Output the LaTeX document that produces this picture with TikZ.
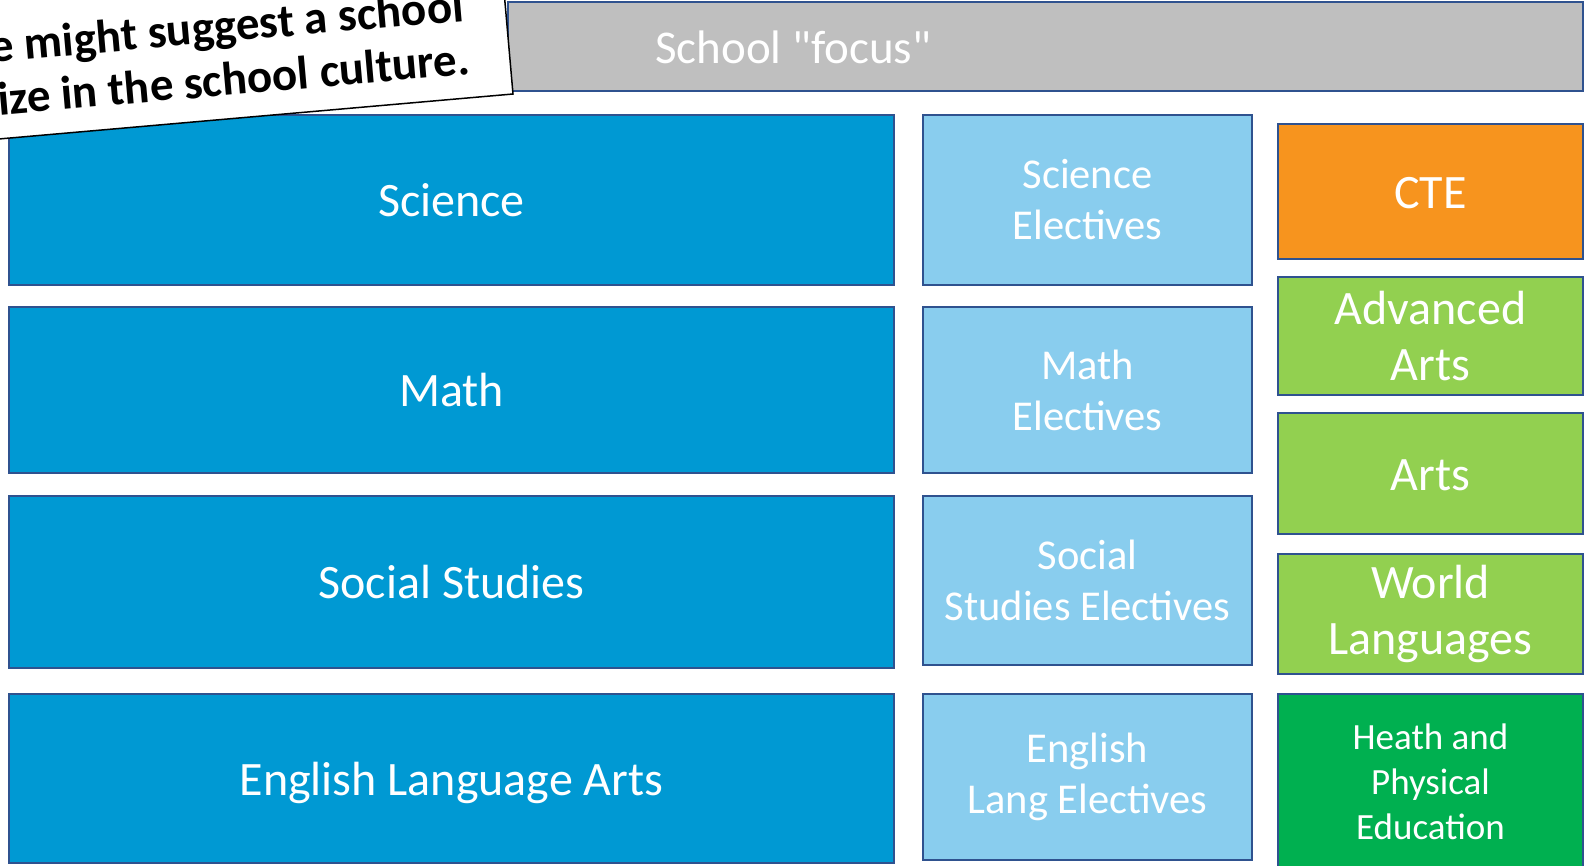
\documentclass[tikz,border=0pt]{standalone}
\usepackage{fontspec}
\setmainfont{Carlito}
\newfontfamily\plaincal{Carlito}
\definecolor{bdr}{RGB}{47,82,143}
\definecolor{core}{RGB}{0,153,211}
\definecolor{elect}{RGB}{137,205,238}
\definecolor{cte}{RGB}{247,148,30}
\definecolor{arts}{RGB}{146,208,80}
\definecolor{hpe}{RGB}{0,176,80}
\definecolor{focusgray}{RGB}{191,191,191}
\tikzset{
  box/.style={draw=bdr, line width=2pt, text=white, align=center, inner sep=0pt},
  coretxt/.style={font=\fontsize{48}{58}\selectfont, text height=33pt, text depth=0pt},
  electtxt/.style={font=\fontsize{42.5}{51}\selectfont},
  righttxt/.style={font=\fontsize{48}{56}\selectfont},
  onelinetxt/.style={text height=34pt, text depth=0pt},
  hpetxt/.style={font=\fontsize{37}{45}\selectfont},
  notetxt/.style={font=\bfseries\fontsize{47}{52}\selectfont, rotate=5, inner sep=0pt}
}
\begin{document}
\begin{tikzpicture}[x=1pt,y=-1pt]
\useasboundingbox (0,0) rectangle (1588,865);
\clip (0,0) rectangle (1588,865);
\fill[white] (0,0) rectangle (1588,865);

% school focus banner
\node[box, fill=focusgray, minimum width=1075pt, minimum height=89pt] (focus) at (1045.5,46.5) {};
\node[text=white, font=\plaincal\fontsize{47}{56}\selectfont, anchor=base west, inner sep=0pt] (focustxt) at (655,63) {School "focus"};

% core subjects
\node[box, coretxt, fill=core, minimum width=885pt, minimum height=170pt] (sci) at (451.5,200) {Science};
\node[box, coretxt, fill=core, minimum width=885pt, minimum height=166pt] (math) at (451.5,390) {Math};
\node[box, coretxt, fill=core, minimum width=885pt, minimum height=172pt] (ss) at (451.5,582) {Social Studies};
\node[box, coretxt, fill=core, minimum width=885pt, minimum height=169pt] (ela) at (451.5,778.5) {English Language Arts};

% electives
\node[box, electtxt, fill=elect, minimum width=329pt, minimum height=170pt] (scie) at (1087.5,200) {Science\\Electives};
\node[box, electtxt, fill=elect, minimum width=329pt, minimum height=166pt] (mathe) at (1087.5,390) {Math\\Electives};
\node[box, electtxt, fill=elect, minimum width=329pt, minimum height=169pt] (sse) at (1087.5,580.5) {Social\\Studies Electives};
\node[box, electtxt, fill=elect, minimum width=329pt, minimum height=166pt] (elae) at (1087.5,777) {English\\Lang Electives};

% other programs
\node[box, righttxt, onelinetxt, fill=cte, minimum width=305pt, minimum height=135pt] (cte) at (1430.5,191.5) {CTE};
\node[box, righttxt, fill=arts, minimum width=305pt, minimum height=118pt] (advarts) at (1430.5,336) {Advanced\\Arts};
\node[box, righttxt, onelinetxt, fill=arts, minimum width=305pt, minimum height=121pt] (arts) at (1430.5,473.5) {Arts};
\node[box, righttxt, fill=arts, minimum width=305pt, minimum height=120pt] (wl) at (1430.5,614) {World\\Languages};
\node[box, hpetxt, fill=hpe, minimum width=305pt, minimum height=176pt] (hpe) at (1430.5,782) {Heath and\\Physical\\Education};

% tilted note card
\coordinate (nbr) at (513,94);
\fill[white, draw=black, line width=1.5pt]
  (nbr) -- ++(-5:-600) -- ++(85:-200) -- ++(-5:600) -- cycle;
\node[notetxt, anchor=base east] (note1) at (465,21) {e might suggest a school};
\node[notetxt, anchor=base east] (note2) at (471,74) {ize in the school culture.};
\end{tikzpicture}
\end{document}
